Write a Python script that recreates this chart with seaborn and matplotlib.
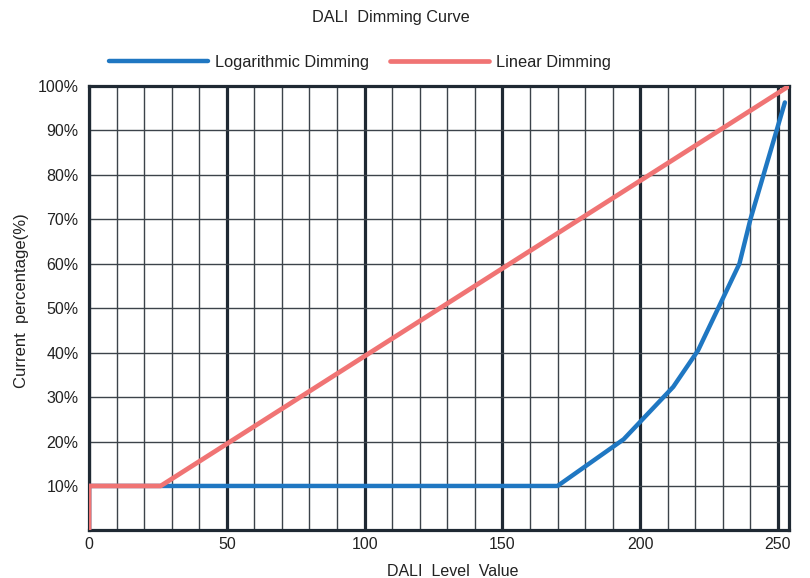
import matplotlib
matplotlib.use("Agg")
import matplotlib.pyplot as plt
import seaborn as sns
import pandas as pd
from matplotlib.ticker import MultipleLocator, FixedLocator

# Data
log_levels = [0, 0, 170, 194, 212, 221, 236, 240, 252.5]
log_pct = [0, 10, 10, 20.5, 32.3, 40.5, 60, 70, 96.3]
lin_levels = [0, 0, 26, 254]
lin_pct = [0, 10, 10, 100]
x_ticks = [0, 50, 100, 150, 200, 250]
y_ticks = [10, 20, 30, 40, 50, 60, 70, 80, 90, 100]
y_labels = [f"{v}%" for v in y_ticks]

sns.set_style("white")
plt.rcParams['font.family'] = ['Liberation Sans', 'DejaVu Sans']

dark = '#1f2933'
blue = '#1f77c2'
red = '#f07474'
txt = '#222222'

fig = plt.figure(figsize=(8.10, 5.78), dpi=100)
ax = fig.add_axes([89/810, 1-530.4/578, 700/810, (530.4-86)/578])

df_log = pd.DataFrame({'x': log_levels, 'y': log_pct})
df_lin = pd.DataFrame({'x': lin_levels, 'y': lin_pct})
sns.lineplot(data=df_log, x='x', y='y', sort=False, estimator=None, ax=ax,
             color=blue, lw=3.2, label='Logarithmic Dimming', zorder=3)
sns.lineplot(data=df_lin, x='x', y='y', sort=False, estimator=None, ax=ax,
             color=red, lw=3.4, label='Linear Dimming', zorder=4)

ax.set_xlim(0, 254)
ax.set_ylim(0, 100)
ax.xaxis.set_major_locator(FixedLocator(x_ticks))
ax.xaxis.set_minor_locator(MultipleLocator(10))
ax.yaxis.set_major_locator(FixedLocator(y_ticks))
ax.set_yticklabels(y_labels)
ax.set_axisbelow(True)
ax.xaxis.grid(True, which='major', color=dark, lw=2.3)
ax.xaxis.grid(True, which='minor', color='#3c434a', lw=1.0)
ax.yaxis.grid(True, which='major', color='#3c434a', lw=1.0)
ax.tick_params(axis='both', which='both', length=0, labelsize=11.5, colors=txt)
ax.tick_params(axis='x', pad=5)
ax.tick_params(axis='y', pad=7.5)

for s in ax.spines.values():
    s.set_visible(True)
    s.set_color(dark)
    s.set_linewidth(2.3)

ax.set_xlabel('')
ax.set_ylabel('')
fig.text(453/810, 1-571/578, 'DALI  Level  Value', ha='center', va='center',
         fontsize=11.5, color=txt)
fig.text(21.5/810, 1-301/578, 'Current  percentage(%)', ha='center', va='center',
         rotation=90, fontsize=12, color=txt)
fig.text(390.7/810, 1-17.5/578, 'DALI  Dimming Curve', ha='center', va='center',
         fontsize=11.7, color=txt)

ax.get_legend().remove()
h, l = ax.get_legend_handles_labels()
fig.legend(h, l, loc='center left', bbox_to_anchor=(109.3/810, 1-62.7/578), ncol=2,
           frameon=False, handlelength=6.0, handletextpad=0.45, columnspacing=1.3,
           borderpad=0, borderaxespad=0, fontsize=11.8, labelcolor=txt)

fig.savefig('out.png', dpi=100)
